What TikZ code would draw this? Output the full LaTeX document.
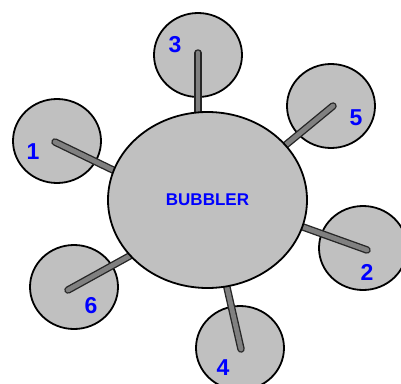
\documentclass[tikz,border=0pt]{standalone}
\usepackage{fontspec}
\setmainfont{Liberation Sans}
\usetikzlibrary{shapes.geometric}
\definecolor{bubgray}{RGB}{192,192,192}
\definecolor{stickgray}{RGB}{128,128,128}

\begin{document}
\begin{tikzpicture}[x=1pt, y=-1pt,
    bubble/.style={ellipse, draw=black, line width=1.8pt, fill=bubgray,
        minimum width=88pt, minimum height=84pt, inner sep=0pt},
    num/.style={text=blue, font=\fontsize{23}{23}\selectfont\bfseries, inner sep=0pt},
    stickout/.style={draw=black!85, line width=7.5pt, line cap=round},
    stickin/.style={draw=stickgray, line width=4.8pt, line cap=round}]
    \useasboundingbox (0,0) rectangle (401,383);
    \clip (0,0) rectangle (401,383);

    % small bubbles
    \node[bubble] (b1) at (57,141) {};
    \node[bubble] (b2) at (363,248) {};
    \node[bubble] (b3) at (198,55) {};
    \node[bubble] (b4) at (240,348) {};
    \node[bubble] (b5) at (331,106) {};
    \node[bubble] (b6) at (74,287) {};

    % stick ends
    \coordinate (t1) at (55,142);   \coordinate (e1) at (120,173.4);
    \coordinate (t2) at (367,250);  \coordinate (e2) at (296,224.5);
    \coordinate (t3) at (198,53);   \coordinate (e3) at (198,118);
    \coordinate (t4) at (241,349);  \coordinate (e4) at (225.5,281);
    \coordinate (t5) at (333,106);  \coordinate (e5) at (282,148);
    \coordinate (t6) at (68,290);   \coordinate (e6) at (135,253);

    \foreach \i in {1,...,6} {
        \draw[stickout] (t\i) -- (e\i);
        \draw[stickin] (t\i) -- (e\i);
    }

    \node[ellipse, draw=black, line width=1.8pt, fill=bubgray,
        minimum width=199pt, minimum height=176pt, inner sep=0pt,
        text=blue, font=\fontsize{17}{17}\selectfont\bfseries] (bub) at (207.5,200) {BUBBLER};

    % numbers
    \node[num] (n1) at (33,152) {1};
    \node[num] (n2) at (367,272) {2};
    \node[num] (n3) at (175,45) {3};
    \node[num] (n4) at (223,368) {4};
    \node[num] (n5) at (356,118) {5};
    \node[num] (n6) at (91,306) {6};
\end{tikzpicture}
\end{document}
